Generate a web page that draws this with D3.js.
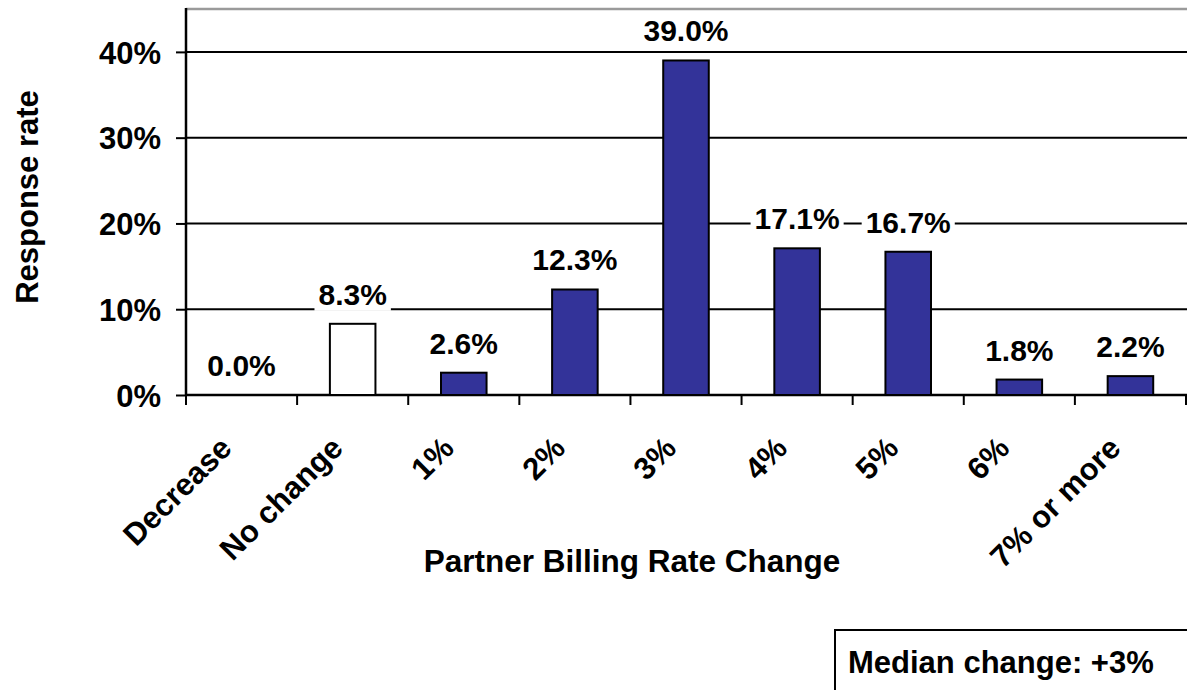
<!DOCTYPE html>
<html>
<head>
<meta charset="utf-8">
<script src="https://cdn.jsdelivr.net/npm/d3@7"></script>
<style>
  html, body { margin: 0; padding: 0; background: #fff; }
  svg text { font-family: Arial, "Liberation Sans", Helvetica, sans-serif; font-weight: bold; fill: #000; }
</style>
</head>
<body>
<svg id="chart" width="1187" height="690"></svg>
<script>
// Survey responses: expected partner billing rate change
const categories = ["Decrease", "No change", "1%", "2%", "3%", "4%", "5%", "6%", "7% or more"];
const responseRates = [0.0, 8.3, 2.6, 12.3, 39.0, 17.1, 16.7, 1.8, 2.2];
const yTicks = [0, 10, 20, 30, 40];
const yTickLabels = ["0%", "10%", "20%", "30%", "40%"];
const xTitle = "Partner Billing Rate Change";
const yTitle = "Response rate";
const noteText = "Median change: +3%";

const svg = d3.select("#chart");
const W = 1187, H = 690;
const plot = { left: 186, right: 1186, top: 9, bottom: 395 };

const x = d3.scaleBand().domain(categories).range([plot.left, plot.right]).paddingInner(0).paddingOuter(0);
const y = d3.scaleLinear().domain([0, 45]).range([plot.bottom, plot.top]);
const barW = x.bandwidth() * 0.41;

// top frame line
svg.append("line")
  .attr("x1", plot.left).attr("x2", W)
  .attr("y1", y(45)).attr("y2", y(45))
  .attr("stroke", "#9a9a9a").attr("stroke-width", 2.5);

// horizontal gridlines
svg.append("g").selectAll("line").data(yTicks.filter(d => d > 0)).join("line")
  .attr("x1", plot.left).attr("x2", W)
  .attr("y1", d => y(d)).attr("y2", d => y(d))
  .attr("stroke", "#000").attr("stroke-width", 2);

// y axis with outward ticks
const yAxis = d3.axisLeft(y).tickValues(yTicks).tickSize(10).tickFormat((d, i) => yTickLabels[i]);
const yg = svg.append("g").attr("transform", `translate(${plot.left},0)`).call(yAxis);
yg.select(".domain").remove();
yg.selectAll(".tick line").attr("stroke", "#000").attr("stroke-width", 2);
yg.selectAll(".tick text").attr("x", -25).attr("font-size", 31).attr("dy", "0.36em");
svg.append("line")
  .attr("x1", plot.left).attr("x2", plot.left)
  .attr("y1", y(45) - 1).attr("y2", plot.bottom)
  .attr("stroke", "#000").attr("stroke-width", 2.5);

// x baseline and category boundary ticks
svg.append("line")
  .attr("x1", plot.left).attr("x2", W)
  .attr("y1", plot.bottom).attr("y2", plot.bottom)
  .attr("stroke", "#000").attr("stroke-width", 2.5);
const bounds = categories.map(c => x(c)).concat([plot.right]);
svg.append("g").selectAll("line").data(bounds).join("line")
  .attr("x1", d => d).attr("x2", d => d)
  .attr("y1", plot.bottom).attr("y2", plot.bottom + 10)
  .attr("stroke", "#000").attr("stroke-width", 2);

// bars
const data = categories.map((c, i) => ({ c, v: responseRates[i] }));
svg.append("g").selectAll("rect").data(data.filter(d => d.v > 0)).join("rect")
  .attr("x", d => x(d.c) + x.bandwidth() / 2 - barW / 2)
  .attr("y", d => y(d.v))
  .attr("width", barW)
  .attr("height", d => y(0) - y(d.v))
  .attr("fill", d => d.c === "No change" ? "#ffffff" : "#333399")
  .attr("stroke", "#000").attr("stroke-width", 2);

// value labels with white backing
const lg = svg.append("g");
data.forEach(d => {
  const cx = x(d.c) + x.bandwidth() / 2;
  const t = lg.append("text")
    .attr("x", cx).attr("y", y(d.v) - 19)
    .attr("text-anchor", "middle").attr("font-size", 30)
    .text(d.v.toFixed(1) + "%");
  const bb = t.node().getBBox();
  lg.insert("rect", () => t.node())
    .attr("x", bb.x - 4).attr("y", bb.y).attr("width", bb.width + 8).attr("height", bb.height)
    .attr("fill", "#fff");
});

// rotated category labels
svg.append("g").selectAll("text").data(categories).join("text")
  .attr("transform", d => `translate(${x(d) + x.bandwidth() / 2 - 8},${450}) rotate(-45)`)
  .attr("text-anchor", "end").attr("font-size", 31)
  .text(d => d);

// axis titles
svg.append("text")
  .attr("x", 632).attr("y", 572)
  .attr("text-anchor", "middle").attr("font-size", 31.5)
  .text(xTitle);
svg.append("text")
  .attr("transform", `translate(38,197) rotate(-90)`)
  .attr("text-anchor", "middle").attr("font-size", 31)
  .text(yTitle);

// median note box
svg.append("rect")
  .attr("x", 835).attr("y", 630).attr("width", 400).attr("height", 100)
  .attr("fill", "#fff").attr("stroke", "#000").attr("stroke-width", 2);
svg.append("text")
  .attr("x", 848).attr("y", 673).attr("font-size", 31)
  .text(noteText);
</script>
</body>
</html>
